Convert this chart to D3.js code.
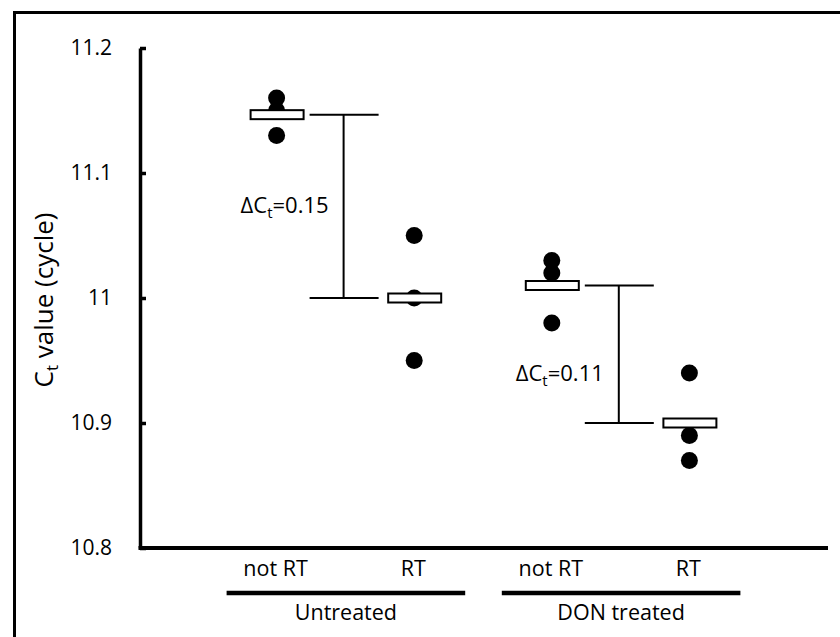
<!DOCTYPE html>
<html><head><meta charset="utf-8">
<script src="https://cdn.jsdelivr.net/npm/d3@7"></script>
<style>
html,body{margin:0;padding:0;background:#fff;}
svg text{font-family:"Open Sans",sans-serif;fill:#000;}
</style></head>
<body><svg id="c" width="840" height="637"></svg>
<script>
// ---- data ----
const categories = ["not RT", "RT", "not RT", "RT"];
const groups = ["Untreated", "DON treated"];
const groupOf = [0, 0, 1, 1];
const replicates = [
  [11.16, 11.15, 11.13],
  [11.05, 11.00, 10.95],
  [11.03, 11.02, 10.98],
  [10.94, 10.89, 10.87]
];
const yTicks = [10.8, 10.9, 11.0, 11.1, 11.2];
const yTickLabels = ["10.8", "10.9", "11", "11.1", "11.2"];
const deltaPairs = [[0, 1], [2, 3]];
const deltaLabels = ["0.15", "0.11"];
const deltaLabelY = [11.068, 10.934];

// ---- layout ----
const svg = d3.select("#c");
const y = d3.scaleLinear().domain([10.8, 11.2]).range([548, 48]);
const x = d3.scaleLinear().domain([0, 5]).range([140, 828]);
const catX = i => x(i + 1);
const means = replicates.map(r => d3.mean(r));

// frame
svg.append("rect").attr("x", 14.5).attr("y", 12.5).attr("width", 900).attr("height", 700)
  .attr("fill", "none").attr("stroke", "#000").attr("stroke-width", 3);

// y axis
const yAxis = d3.axisLeft(y).tickValues(yTicks)
  .tickFormat((d, i) => yTickLabels[i]).tickSizeInner(-6).tickSizeOuter(0).tickPadding(28);
const gy = svg.append("g").attr("transform", "translate(140,0)").call(yAxis);
gy.select(".domain").attr("stroke-width", 3.5);
gy.selectAll(".tick line").attr("stroke-width", 3.5);
gy.selectAll(".tick text").attr("font-size", 21).attr("font-family", "Open Sans").attr("fill", "#000");

// x axis line
svg.append("line").attr("x1", x(0) - 1.5).attr("x2", x(5)).attr("y1", y(10.8)).attr("y2", y(10.8))
  .attr("stroke", "#000").attr("stroke-width", 4);

// y title
const yt = svg.append("text").attr("transform", "translate(53,300) rotate(-90)")
  .attr("text-anchor", "middle").attr("font-size", 26);
yt.append("tspan").text("C");
yt.append("tspan").attr("font-size", 17).attr("dy", 5).text("t");
yt.append("tspan").attr("dy", -5).text(" value (cycle)");

// category labels
svg.selectAll(".cat").data(categories).enter().append("text")
  .attr("x", (d, i) => catX(i) - 2).attr("y", 576).attr("text-anchor", "middle")
  .attr("font-size", 21.5).text(d => d);

// group lines and labels
groups.forEach((g, gi) => {
  const idx = categories.map((c, i) => i).filter(i => groupOf[i] === gi);
  const x0 = catX(idx[0]) - 51, x1 = catX(idx[idx.length - 1]) + 50;
  svg.append("line").attr("x1", x0).attr("x2", x1).attr("y1", 593).attr("y2", 593)
    .attr("stroke", "#000").attr("stroke-width", 4.5);
  svg.append("text").attr("x", (x0 + x1) / 2).attr("y", 620).attr("text-anchor", "middle")
    .attr("font-size", 21.5).text(g);
});

// points
replicates.forEach((r, i) => {
  svg.selectAll(null).data(r).enter().append("circle")
    .attr("cx", catX(i) - 1).attr("cy", d => y(d)).attr("r", 8.5).attr("fill", "#000");
});

// mean bars
svg.selectAll(".mean").data(means).enter().append("rect")
  .attr("x", (d, i) => catX(i) - 27).attr("y", d => y(d) - 4.5)
  .attr("width", 53).attr("height", 9)
  .attr("fill", "#fff").attr("stroke", "#000").attr("stroke-width", 2);

// delta brackets
deltaPairs.forEach(([a, b], k) => {
  const xa = catX(a);
  const xl = xa + 32, xr = xa + 101, xv = xa + 66;
  const g = svg.append("g").attr("stroke", "#000").attr("stroke-width", 2);
  g.append("line").attr("x1", xl).attr("x2", xr).attr("y1", y(means[a])).attr("y2", y(means[a]));
  g.append("line").attr("x1", xl).attr("x2", xr).attr("y1", y(means[b])).attr("y2", y(means[b]));
  g.append("line").attr("x1", xv).attr("x2", xv).attr("y1", y(means[a])).attr("y2", y(means[b]));
  const t = svg.append("text").attr("x", xv - 15).attr("y", y(deltaLabelY[k]))
    .attr("text-anchor", "end").attr("font-size", 22);
  t.append("tspan").text("\u0394C");
  t.append("tspan").attr("font-size", 15).attr("dy", 5).text("t");
  t.append("tspan").attr("dy", -5).text("=" + deltaLabels[k]);
});
</script></body></html>
